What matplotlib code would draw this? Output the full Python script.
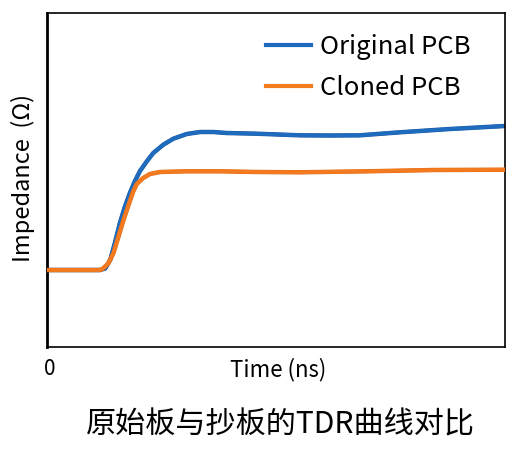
import matplotlib
matplotlib.use("Agg")
import matplotlib.pyplot as plt
import matplotlib.patheffects as pe

plt.rcParams['font.family'] = ['Noto Sans CJK SC', 'DejaVu Sans']

# Data (arbitrary units)
time_original = [0.00, 1.16, 1.27, 1.38, 1.48, 1.59, 1.70, 1.81, 1.92, 2.03, 2.18, 2.32,
                 2.54, 2.76, 3.05, 3.34, 3.63, 3.92, 4.21, 4.58, 5.52, 6.18, 6.83, 7.71,
                 8.80, 10.00]
imp_original = [23.05, 23.05, 23.50, 26.05, 31.05, 37.04, 42.01, 46.11, 49.70, 52.69, 55.60, 58.08,
                60.57, 62.37, 63.77, 64.37, 64.37, 64.07, 63.98, 63.86, 63.38, 63.32, 63.38, 64.28,
                65.27, 66.17]

time_cloned = [0.00, 1.16, 1.23, 1.34, 1.45, 1.56, 1.67, 1.78, 1.88, 1.96, 2.10, 2.25,
               2.47, 3.05, 3.78, 4.58, 5.52, 6.98, 8.43, 10.00]
imp_cloned = [23.05, 23.05, 23.56, 25.06, 28.05, 33.02, 38.02, 42.51, 46.50, 48.80, 50.60, 51.80,
              52.40, 52.60, 52.60, 52.40, 52.31, 52.60, 52.99, 53.08]

series_labels = ["Original PCB", "Cloned PCB"]
xtick_labels = ["0"]

fig = plt.figure(figsize=(5.30, 4.53), dpi=100)
ax = fig.add_axes([47/530, 1-347/453, 458/530, 334/453])

ax.plot(time_original, imp_original, color="#1f6cbf", lw=2.6, solid_joinstyle='round',
        label=series_labels[0], zorder=2,
        path_effects=[pe.Stroke(linewidth=3.2, foreground="#1a5aa3"), pe.Normal()])
ax.plot(time_cloned, imp_cloned, color="#f47a20", lw=2.6, solid_joinstyle='round',
        label=series_labels[1], zorder=3,
        path_effects=[pe.Stroke(linewidth=3.2, foreground="#e46c14"), pe.Normal()])

ax.set_xlim(0, 10)
ax.set_ylim(0, 100)
ax.set_xticks([])
ax.set_yticks([])
for s in ax.spines.values():
    s.set_linewidth(1.2)
    s.set_color("black")
ax.spines['left'].set_linewidth(2.0)

leg = ax.legend(loc="upper right", frameon=False, fontsize=18.5,
                handlelength=1.75, handletextpad=0.38, labelspacing=0.6,
                bbox_to_anchor=(0.99, 1.027), borderaxespad=0.75)
for h in leg.get_lines():
    h.set_linewidth(3.0)
    h.set_path_effects([])

fig.text(50/530, 1-369/453, xtick_labels[0], ha="center", va="center", fontsize=15)
fig.text(278/530, 1-370/453, "Time (ns)", ha="center", va="center", fontsize=16)
fig.text(23/530, 1-178/453, "Impedance  (Ω)", ha="center", va="center", fontsize=17,
         rotation=90)
fig.text(280/530, 1-425/453, "原始板与抄板的TDR曲线对比", ha="center", va="center",
         fontsize=21.7)

fig.savefig("out.png", dpi=100, facecolor="white")
